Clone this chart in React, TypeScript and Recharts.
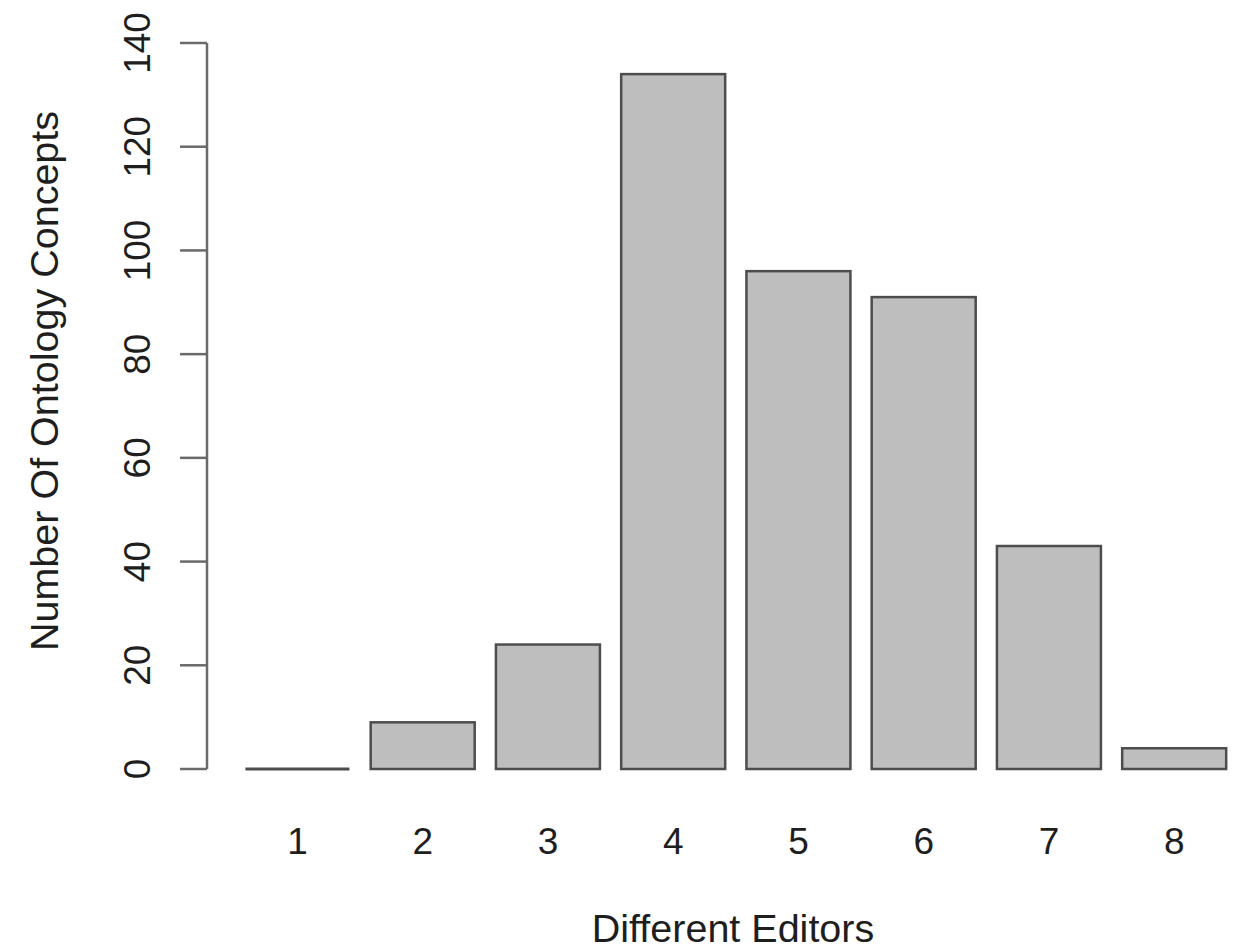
import React from "react";
import { BarChart, Bar, XAxis, YAxis } from "recharts";

const categories = ["1", "2", "3", "4", "5", "6", "7", "8"];
const conceptCounts = [0, 9, 24, 134, 96, 91, 43, 4];
const yTicks = [0, 20, 40, 60, 80, 100, 120, 140];
const xTitle = "Different Editors";
const yTitle = "Number Of Ontology Concepts";

const data = categories.map((c, i) => ({ editors: c, count: conceptCounts[i] }));

const FONT = "'Liberation Sans', Arial, Helvetica, sans-serif";
const FS = 37;
const FS_TITLE = 39.5;
const TEXT = "#1e1e1e";

const BarShape = (props: any) => {
  const { x, y, width, height } = props;
  if (!height || height < 1) {
    return <line x1={x} x2={x + width} y1={y} y2={y} stroke="#4d4d4d" strokeWidth={3} />;
  }
  return (
    <rect x={x} y={y} width={width} height={height} fill="#BEBEBE" stroke="#4d4d4d" strokeWidth={2.5} />
  );
};

const YTick = (props: any) => {
  const { x, y, payload } = props;
  return (
    <text
      transform={`translate(${x - 30}, ${y}) rotate(-90)`}
      textAnchor="middle"
      fontFamily={FONT}
      fontSize={FS}
      fill={TEXT}
    >
      {payload.value}
    </text>
  );
};

const XTick = (props: any) => {
  const { x, y, payload } = props;
  return (
    <text x={x} y={y + 85} textAnchor="middle" fontFamily={FONT} fontSize={FS} fill={TEXT}>
      {payload.value}
    </text>
  );
};

export default function App() {
  return (
    <div style={{ position: "absolute", left: 0, top: 0, width: 1239, height: 951, background: "#fff" }}>
      <BarChart
        width={1239}
        height={951}
        data={data}
        margin={{ top: 43, right: 0, bottom: 0, left: 0 }}
        barCategoryGap="8.33%"
      >
        <XAxis
          dataKey="editors"
          height={182}
          axisLine={false}
          tickLine={false}
          tickSize={0}
          tickMargin={0}
          padding={{ left: 28, right: 2 }}
          tick={<XTick />}
          interval={0}
          label={(p: any) => (
            <text x={733} y={942} textAnchor="middle" fontFamily={FONT} fontSize={FS_TITLE} fill={TEXT}>
              {xTitle}
            </text>
          )}
        />
        <YAxis
          width={207}
          domain={[0, 140]}
          ticks={yTicks}
          tickSize={27}
          tickMargin={0}
          interval={0}
          stroke="#6a6a6a"
          axisLine={{ stroke: "#6a6a6a", strokeWidth: 2.5 }}
          tickLine={{ stroke: "#6a6a6a", strokeWidth: 2.5 }}
          tick={<YTick />}
          label={(p: any) => (
            <text
              transform={`translate(58, 381) rotate(-90)`}
              textAnchor="middle"
              fontFamily={FONT}
              fontSize={FS_TITLE}
              fill={TEXT}
            >
              {yTitle}
            </text>
          )}
        />
        <Bar dataKey="count" isAnimationActive={false} shape={BarShape} />
      </BarChart>
    </div>
  );
}
